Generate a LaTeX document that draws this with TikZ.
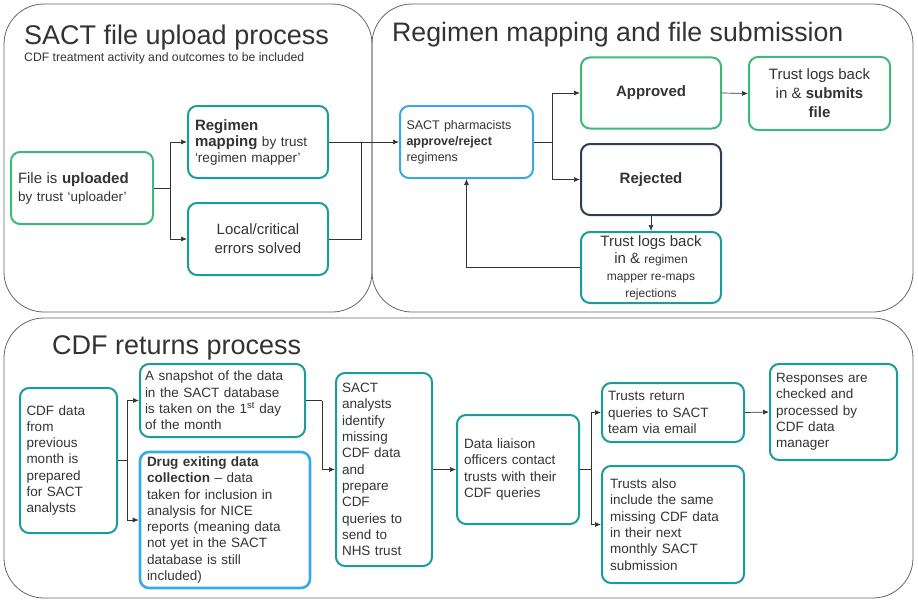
\documentclass[tikz,border=0pt]{standalone}
\usepackage{fontspec}
\setmainfont{Liberation Sans}
\usetikzlibrary{arrows.meta}
\definecolor{tgreen}{HTML}{3DBA7A}
\definecolor{tteal}{HTML}{1A9C9C}
\definecolor{tblue}{HTML}{3AA8E6}
\definecolor{tdark}{HTML}{2C3E50}
\definecolor{tgrey}{HTML}{333333}
\definecolor{tline}{HTML}{666666}
\begin{document}
\begin{tikzpicture}[x=1pt,y=-1pt,
  panel/.style={draw=tline,line width=0.8pt,rounded corners=40pt},
  box/.style={draw=#1,line width=2pt,rounded corners=9pt,inner sep=4pt,text=tgrey,font=\fontsize{13.5}{16}\selectfont},
  conn/.style={draw=black!80,line width=0.7pt},
  arr/.style={conn,-{Latex[length=6pt,width=5pt]}}]
\useasboundingbox (0,0) rectangle (918,602);
\draw[panel] (4,4) rectangle (372,312);
\draw[panel] (372,4) rectangle (913,312);
\draw[panel] (4,318) rectangle (913,598);
\node[anchor=base west,text=tgrey,font=\fontsize{27}{30}\selectfont,inner sep=0] (t1) at (24,45) {SACT file upload process};
\node[anchor=base west,text=tgrey,font=\fontsize{12.2}{14}\selectfont,inner sep=0] (t1s) at (24,62) {CDF treatment activity and outcomes to be included};
\node[anchor=base west,text=tgrey,font=\fontsize{26.7}{30}\selectfont,inner sep=0] (t2) at (392,42) {Regimen mapping and file submission};
\node[anchor=base west,text=tgrey,font=\fontsize{27}{30}\selectfont,inner sep=0] (t3) at (52,354) {CDF returns process};
% top nodes
\node[box=tgreen,minimum width=142pt,minimum height=72pt,align=left,text width=128pt] (up) at (82,188) {{\fontsize{15}{18}\selectfont File is \textbf{uploaded}}\\[2pt]by trust ‘uploader’};
\node[box=tteal,minimum width=140pt,minimum height=72pt,align=left,text width=126pt] (map) at (258,142) {{\fontsize{15}{18}\selectfont\textbf{Regimen}}\\{\fontsize{15}{18}\selectfont\textbf{mapping}} by trust\\‘regimen mapper’};
\node[box=tteal,minimum width=140pt,minimum height=72pt,align=center,font=\fontsize{15}{19}\selectfont] (err) at (258,239) {Local/critical\\errors solved};
\node[box=tblue,minimum width=133pt,minimum height=72pt,align=left,text width=120pt,font=\fontsize{12.5}{16}\selectfont] (ph) at (466.5,142) {SACT pharmacists\\\textbf{approve/reject}\\regimens};
\node[box=tgreen,minimum width=140pt,minimum height=71pt,font=\fontsize{15}{18}\selectfont\bfseries] (ap) at (651,93) {Approved};
\node[box=tgreen,minimum width=141pt,minimum height=73pt,align=center,font=\fontsize{15}{19}\selectfont] (sub) at (819.5,93.5) {Trust logs back\\in \& \textbf{submits}\\\textbf{file}};
\node[box=tdark,minimum width=140pt,minimum height=71pt,font=\fontsize{15}{18}\selectfont\bfseries] (rej) at (651,179.5) {Rejected};
\node[box=tteal,minimum width=140pt,minimum height=71pt,align=center,inner sep=1pt,font=\fontsize{15}{17}\selectfont] (rem) at (651,267.5) {Trust logs back\\in \& {\fontsize{12}{14}\selectfont regimen}\\{\fontsize{12}{14}\selectfont mapper re-maps}\\{\fontsize{12}{14}\selectfont rejections}};
% top connectors
\coordinate (j1) at (170,188);
\draw[conn] (up.east) -- (j1);
\draw[arr] (j1) |- (map.west);
\draw[arr] (j1) |- (err.west);
\coordinate (j2) at (361,142);
\draw[conn] (map.east) -- (j2);
\draw[conn] (err.east) -| (j2);
\draw[arr] (j2) -- (ph.west);
\coordinate (j3) at (552,142);
\draw[conn] (ph.east) -- (j3);
\draw[arr] (j3) |- (ap.west);
\draw[arr] (j3) |- (rej.west);
\draw[arr] (ap.east) -- (sub.west);
\draw[arr,draw=tdark] (rej.south) -- (rem.north);
\draw[arr] (rem.west) -| (ph.south);
% bottom nodes
\tikzset{bb/.style={box=tteal,align=left,font=\fontsize{13.5}{16.3}\selectfont}}
\node[bb,minimum width=97pt,minimum height=145pt,text width=84pt] (cdf) at (68.5,460.5) {CDF data\\from\\previous\\month is\\prepared\\for SACT\\analysts};
\node[bb,minimum width=165pt,minimum height=73pt,text width=155pt,inner sep=2pt] (snap) at (222.5,400.5) {A snapshot of the data\\in the SACT database\\is taken on the 1\textsuperscript{st} day\\of the month};
\node[bb,draw=tblue,line width=2.6pt,minimum width=170pt,minimum height=136pt,text width=156pt,inner sep=2pt] (drug) at (225,520) {\textbf{Drug exiting data}\\\textbf{collection} – data\\taken for inclusion in\\analysis for NICE\\reports (meaning data\\not yet in the SACT\\database is still\\included)};
\node[bb,minimum width=96pt,minimum height=193pt,text width=84pt] (an) at (384,469.5) {SACT\\analysts\\identify\\missing\\CDF data\\and\\prepare\\CDF\\queries to\\send to\\NHS trust};
\node[bb,minimum width=122pt,minimum height=109pt,text width=108pt] (dl) at (518,469.5) {Data liaison\\officers contact\\trusts with their\\CDF queries};
\node[bb,minimum width=142pt,minimum height=59pt,text width=130pt,inner sep=2pt] (ret) at (673,412.5) {Trusts return\\queries to SACT\\team via email};
\node[bb,minimum width=142pt,minimum height=117pt,text width=126pt] (also) at (673,524.5) {Trusts also\\include the same\\missing CDF data\\in their next\\monthly SACT\\submission};
\node[bb,minimum width=127pt,minimum height=96pt,text width=115pt,inner sep=2pt] (resp) at (833.5,412) {Responses are\\checked and\\processed by\\CDF data\\manager};
% bottom connectors
\coordinate (j4) at (127,460.5);
\draw[conn] (cdf.east) -- (j4);
\draw[arr] (j4) |- (snap.west);
\draw[arr] (j4) |- (drug.west);
\coordinate (j5) at (322,400.5);
\draw[conn] (snap.east) -- (j5);
\draw[arr] (j5) |- (an.west);
\draw[arr] (an.east) -- (dl.west);
\coordinate (j6) at (591,469.5);
\draw[conn] (dl.east) -- (j6);
\draw[arr] (j6) |- (ret.west);
\draw[arr] (j6) |- (also.west);
\draw[arr] (ret.east) -- (resp.west);
\end{tikzpicture}
\end{document}
